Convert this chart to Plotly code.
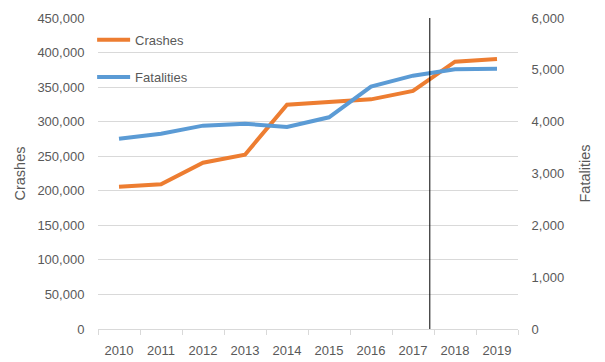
import plotly.graph_objects as go

years = ["2010", "2011", "2012", "2013", "2014", "2015", "2016", "2017", "2018", "2019"]
crashes = [206000, 209400, 240600, 252200, 324600, 328500, 332300, 344400, 386800, 390700]
fatalities = [3672, 3768, 3923, 3961, 3897, 4084, 4675, 4887, 5010, 5023]
divider_after = "2017"
divider_offset = 0.4

crash_ticks = list(range(0, 450001, 50000))
fatal_ticks = list(range(0, 6001, 1000))

ORANGE = "#ED7D31"
BLUE = "#5B9BD5"
TXT = "#595959"
GRID = "#D9D9D9"
FONT = "Liberation Sans"

fig = go.Figure()
fig.add_trace(go.Scatter(x=years, y=crashes, name="Crashes", mode="lines",
                         line=dict(color=ORANGE, width=4), legend="legend"))
fig.add_trace(go.Scatter(x=years, y=fatalities, name="Fatalities", mode="lines",
                         line=dict(color=BLUE, width=4), yaxis="y2", legend="legend2"))

div_x = years.index(divider_after) + divider_offset
fig.add_shape(type="line", xref="x", yref="paper", x0=div_x, x1=div_x, y0=0, y1=1,
              line=dict(color="black", width=1), layer="above")

# page body has an 8px margin: figure is shrunk by that much to fit the window
fig.update_layout(
    width=597, height=354,
    margin=dict(l=90, r=87, t=10, b=33),
    paper_bgcolor="white", plot_bgcolor="white",
    font=dict(family=FONT, size=13, color=TXT),
    xaxis=dict(type="category", range=[-0.5, len(years) - 0.5], tickson="boundaries",
               ticks="outside", ticklen=5, tickcolor=GRID, showline=True, linecolor=GRID,
               linewidth=1, showgrid=False, ticklabelstandoff=9, automargin=False,
               tickfont=dict(size=13, color=TXT)),
    yaxis=dict(range=[0, 450000], tickvals=crash_ticks, tickformat=",d",
               showgrid=True, gridcolor=GRID, zeroline=False, showline=False,
               ticks="outside", ticklen=10, tickcolor="rgba(0,0,0,0)", automargin="left",
               title=dict(text="Crashes", font=dict(size=14.5, color=TXT), standoff=8)),
    yaxis2=dict(range=[0, 6000], tickvals=fatal_ticks, tickformat=",d", overlaying="y",
                side="right", showgrid=False, zeroline=False, showline=False,
                ticks="outside", ticklen=10, tickcolor="rgba(0,0,0,0)", automargin="right",
                title=dict(text="Fatalities", font=dict(size=14.5, color=TXT), standoff=16)),
    legend=dict(x=-0.014, y=0.93, xanchor="left", yanchor="middle", bgcolor="rgba(0,0,0,0)",
                font=dict(size=13, color=TXT), itemwidth=33),
    legend2=dict(x=-0.014, y=0.81, xanchor="left", yanchor="middle", bgcolor="rgba(0,0,0,0)",
                 font=dict(size=13, color=TXT), itemwidth=33),
    showlegend=True,
)

fig.write_html("out.html")
